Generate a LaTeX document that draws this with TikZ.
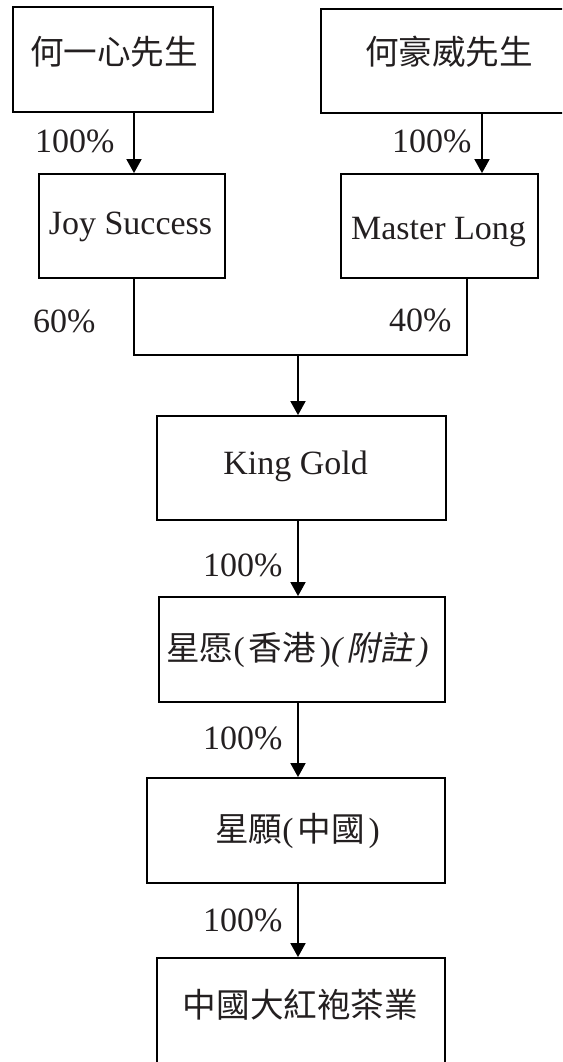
\documentclass[tikz,border=0pt]{standalone}
\usepackage{fontspec}
\setmainfont{Liberation Serif}
\newfontfamily\cjk{Noto Sans CJK TC}
\newfontfamily\cjksl[FakeSlant=0.2]{Noto Sans CJK TC}
\newfontfamily\parfont{Liberation Serif}
\usepackage{tikz}
\usepackage{xcolor}
\usetikzlibrary{positioning,arrows.meta}
\definecolor{inkgray}{HTML}{231F20}
\newcommand{\opar}{{\parfont(}\hspace{4pt}}
\newcommand{\cpar}{\hspace{4pt}{\parfont)}}
\newcommand{\oparsl}{{\parfont\itshape(}\hspace{4pt}}
\newcommand{\cparsl}{\hspace{4pt}{\parfont\itshape)}}

\begin{document}
\begin{tikzpicture}[x=1pt,y=-1pt]
\tikzstyle{every node}+=[inner sep=0pt]
\tikzstyle{holder}=[draw=black, line width=1.8pt, rectangle]
\tikzstyle{word}=[text=inkgray, font=\fontsize{34}{40}\selectfont]
\tikzstyle{cjkword}=[text=inkgray, font=\fontsize{33.6}{40}\selectfont\cjk]
\tikzstyle{flow}=[draw=black, line width=1.8pt, -{Triangle[length=14pt,width=15pt]}]
\useasboundingbox (0,0) rectangle (562,1062);
\clip (0,0) rectangle (562,1062);
% holders
\node [holder, minimum width=200, minimum height=105] (ho) at (113,59.5) {};
\node [holder, minimum width=259, minimum height=104] (hw) at (450.5,61) {};
\node [holder, minimum width=186, minimum height=104] (joy) at (132,226) {};
\node [holder, minimum width=197, minimum height=104] (ml) at (439.5,226) {};
\node [holder, minimum width=289, minimum height=104] (kg) at (301.5,468) {};
\node [holder, minimum width=286, minimum height=105] (hk) at (302,649.5) {};
\node [holder, minimum width=298, minimum height=105] (cn) at (296,830.5) {};
\node [holder, minimum width=288, minimum height=130] (tea) at (301,1023) {};
% names
\node [cjkword] (hot) at (114,52) {何一心先生};
\node [cjkword] (hwt) at (449,52) {何豪威先生};
\node [word, anchor=base] (joyt) at (130.5,234) {Joy Success};
\node [word, anchor=base] (mlt) at (438.5,239) {Master Long};
\node [word, anchor=base] (kgt) at (295.5,474) {King Gold};
\node [cjkword] (hkt) at (297.5,650) {星愿\opar 香港\cpar{\cjksl\oparsl 附註\cparsl}};
\node [cjkword] (cnt) at (297.5,831) {星願\opar 中國\cpar};
\node [cjkword] (teat) at (300.5,1005) {中國大紅袍茶業};
% shares
\node [word, anchor=base west] (p1) at (35,153) {100\%};
\node [word, anchor=base west] (p2) at (392,153) {100\%};
\node [word, anchor=base west] (p3) at (33,332) {60\%};
\node [word, anchor=base west] (p4) at (389,331) {40\%};
\node [word, anchor=base west] (p5) at (203,576) {100\%};
\node [word, anchor=base west] (p6) at (203,749) {100\%};
\node [word, anchor=base west] (p7) at (203,931) {100\%};
% links
\coordinate (join) at (298,355);
\draw [flow] ([xshift=2]joy.north |- ho.south) -- ([xshift=2]joy.north);
\draw [flow] ([xshift=42.5]ml.north |- hw.south) -- ([xshift=42.5]ml.north);
\draw [black, line width=1.8pt] ([xshift=2]joy.south) |- (join) -| ([xshift=27.5]ml.south);
\draw [flow] (join) -- (join |- kg.north);
\draw [flow] (kg.south -| join) -- (hk.north -| join);
\draw [flow] (hk.south -| join) -- (cn.north -| join);
\draw [flow] (cn.south -| join) -- (tea.north -| join);
\end{tikzpicture}
\end{document}
